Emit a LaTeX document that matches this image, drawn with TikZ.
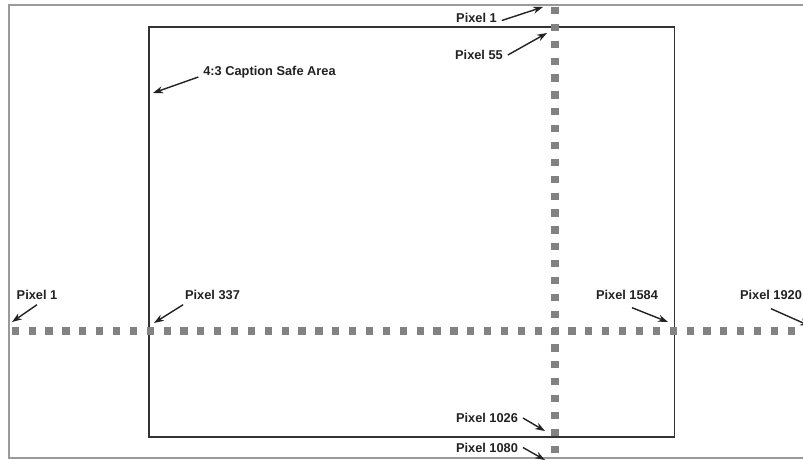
\documentclass[tikz,border=0pt]{standalone}
\usepackage{fontspec}
\setmainfont{Liberation Sans}
\usetikzlibrary{arrows.meta, positioning}
\definecolor{ink}{HTML}{222222}
\definecolor{framegray}{HTML}{9A9A9A}
\definecolor{safeline}{HTML}{333333}
\definecolor{dotgray}{HTML}{828282}

\begin{document}
\begin{tikzpicture}[
  x=1pt, y=-1pt,
  frame/.style={draw=framegray, line width=1.3pt},
  safe/.style={draw=safeline, line width=1.8pt},
  pixrow/.style={draw=dotgray, line width=7.5pt, dash pattern=on 7.2pt off 9.67pt},
  lbl/.style={font=\bfseries\fontsize{12.8}{14}\selectfont, text=ink,
              inner sep=1pt, outer sep=4pt},
  arr/.style={-{Stealth[length=10pt, width=7pt]}, color=ink, line width=1.4pt}
]
  \useasboundingbox (0,0) rectangle (803,459);
  \clip (0,0) rectangle (803,459);
  \fill[white] (0,0) rectangle (803,459);

  % Full frame and 4:3 safe area
  \draw[frame] (9,5) rectangle (812,458);
  \draw[safe] (149,27) rectangle (674.5,437);

  % Pixel rows
  \draw[pixrow] (11.7,330.8) -- (803,330.8);
  \draw[pixrow] (555,7) -- (555,459);

  % Arrow targets
  \coordinate (topPix) at (543,7);
  \coordinate (safeTopPix) at (547,33);
  \coordinate (safeEdge) at (153,93);
  \coordinate (leftPix) at (12,322);
  \coordinate (safeLeftPix) at (154,323);
  \coordinate (safeRightPix) at (668,322);
  \coordinate (rightPix) at (810,326);
  \coordinate (safeBottomPix) at (545,431);
  \coordinate (bottomPix) at (545,460);

  % Labels
  \node[lbl] (pxTop) at (476.5,17.5) {Pixel 1};
  \node[lbl] (pxFiftyFive) at (479,55) {Pixel 55};
  \node[lbl] (safeLbl) at (269.5,72) {4:3 Caption Safe Area};
  \node[lbl] (pxLeft) at (37,295) {Pixel 1};
  \node[lbl] (pxLeftSafe) at (212.5,295) {Pixel 337};
  \node[lbl] (pxRightSafe) at (627,295) {Pixel 1584};
  \node[lbl] (pxRight) at (771,295) {Pixel 1920};
  \node[lbl] (pxSafeBottom) at (487,418) {Pixel 1026};
  \node[lbl] (pxBottom) at (487,447.5) {Pixel 1080};

  % Arrows
  \draw[arr] ([yshift=-3pt]pxTop.east) -- (topPix);
  \draw[arr] (pxFiftyFive.east) -- (safeTopPix);
  \draw[arr] ([yshift=-5pt]safeLbl.west) -- (safeEdge);
  \draw[arr] (pxLeft.south) -- (leftPix);
  \draw[arr] ([xshift=3pt]pxLeftSafe.south west) -- (safeLeftPix);
  \draw[arr] ([xshift=5pt,yshift=-3pt]pxRightSafe.south) -- (safeRightPix);
  \draw[arr] ([yshift=-4pt]pxRight.south) -- (rightPix);
  \draw[arr] (pxSafeBottom.east) -- (safeBottomPix);
  \draw[arr] (pxBottom.east) -- (bottomPix);
\end{tikzpicture}
\end{document}
